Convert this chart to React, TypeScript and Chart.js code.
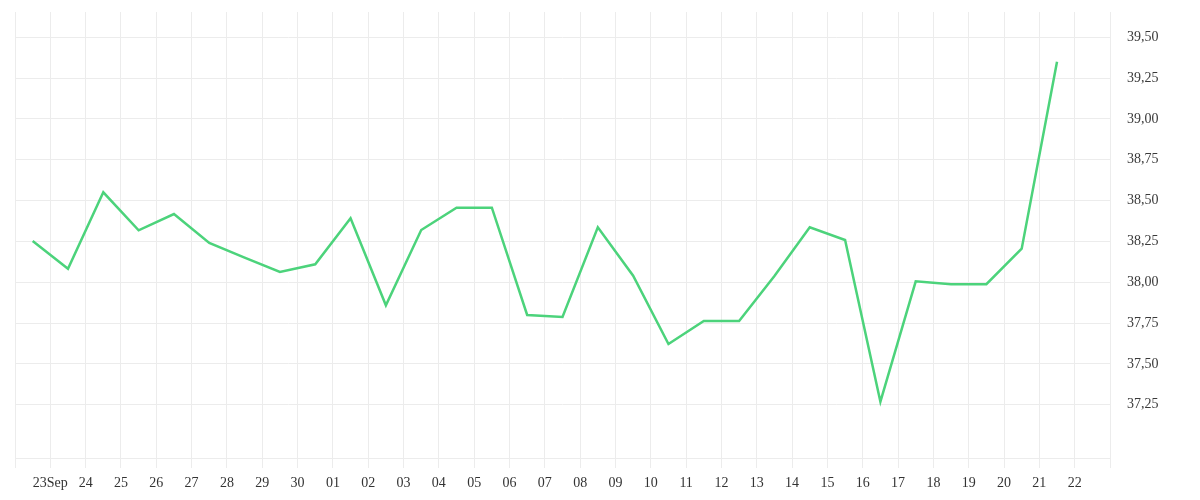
import React, { useEffect, useRef } from "react";
import { Chart, registerables } from "chart.js";

Chart.register(...registerables);

// Day slots: 22 Sep .. 23 Oct (tick labels sit on slot boundaries)
const tickLabels: string[] = [
  "", "23Sep", "24", "25", "26", "27", "28", "29", "30",
  "01", "02", "03", "04", "05", "06", "07", "08", "09", "10",
  "11", "12", "13", "14", "15", "16", "17", "18", "19", "20",
  "21", "22", "",
];

// Daily values, one per day slot starting 22 Sep
const values: number[] = [
  38.253, 38.083, 38.551, 38.318, 38.418, 38.241, 38.151, 38.063, 38.11, 38.392,
  37.859, 38.32, 38.457, 38.457, 37.8, 37.788, 38.337, 38.04, 37.622, 37.763,
  37.763, 38.039, 38.337, 38.259, 37.269, 38.006, 37.988, 37.988, 38.206, 39.351,
];

const yTicks: number[] = [37.25, 37.5, 37.75, 38.0, 38.25, 38.5, 38.75, 39.0, 39.25, 39.5];

const Y_MIN = 36.924;
const Y_MAX = 39.655;

export default function App() {
  const ref = useRef<HTMLCanvasElement | null>(null);

  useEffect(() => {
    if (!ref.current) return;
    const points = values.map((v, i) => ({ x: i + 0.5, y: v }));
    const font = { family: "'Liberation Serif', serif", size: 14 };
    const chart = new Chart(ref.current, {
      type: "line",
      data: {
        datasets: [
          {
            data: points,
            borderColor: "#4cd37b",
            borderWidth: 2.5,
            pointRadius: 0,
            tension: 0,
            fill: false,
          },
        ],
      },
      options: {
        animation: false,
        responsive: true,
        maintainAspectRatio: false,
        layout: { padding: { top: 4, left: 7, right: 22, bottom: 0 } },
        plugins: { legend: { display: false }, tooltip: { enabled: false } },
        scales: {
          x: {
            type: "linear",
            min: 0,
            max: tickLabels.length - 1,
            afterBuildTicks: (scale: any) => {
              scale.ticks = tickLabels.map((_, i) => ({ value: i }));
            },
            afterFit: (scale: any) => {
              scale.height = 34;
            },
            ticks: {
              autoSkip: false,
              maxRotation: 0,
              padding: 7,
              color: "#333",
              font,
              callback: (v: any) => tickLabels[Math.round(Number(v))] ?? "",
            },
            grid: { color: "#ececec", lineWidth: 1, tickLength: 10, drawTicks: true },
            border: { color: "#ececec" },
          },
          y: {
            type: "linear",
            position: "right",
            min: Y_MIN,
            max: Y_MAX,
            afterBuildTicks: (scale: any) => {
              scale.ticks = yTicks.map((v) => ({ value: v }));
            },
            afterFit: (scale: any) => {
              scale.width = 60;
              scale.paddingTop = 0;
              scale.paddingBottom = 0;
            },
            ticks: {
              padding: 0,
              color: "#3a3a3a",
              font,
              callback: (v: any) => Number(v).toFixed(2).replace(".", ","),
            },
            grid: {
              color: "#ececec",
              lineWidth: 1,
              drawTicks: true,
              tickLength: 17,
              tickColor: "rgba(0,0,0,0)",
            },
            border: { color: "#ececec" },
          },
        },
      },
    });
    return () => chart.destroy();
  }, []);

  return (
    <div style={{ width: 1184, height: 484, position: "relative" }}>
      <canvas ref={ref} />
    </div>
  );
}
